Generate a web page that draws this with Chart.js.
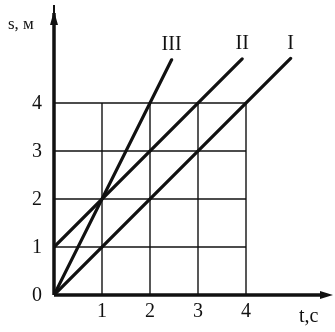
<!DOCTYPE html>
<html><head><meta charset="utf-8">
<script src="https://cdn.jsdelivr.net/npm/chart.js@4"></script>
<style>html,body{margin:0;padding:0;background:#fff}#w{width:335px;height:332px}</style>
</head><body><div id="w"><canvas id="c"></canvas></div>
<script>
const tickValues = [0, 1, 2, 3, 4];
const seriesNames = ['I', 'II', 'III'];
const seriesT = [[0, 4.93], [0, 3.92], [0, 2.45]];
const seriesS = [[0, 4.93], [1, 4.92], [0, 4.9]];
const xAxisLabel = 't,c';
const yAxisLabel = 's, м';

const datasets = seriesNames.map((n, i) => ({
  label: n,
  data: seriesT[i].map((t, k) => ({x: t, y: seriesS[i][k]})),
  showLine: true, borderColor: '#111', borderWidth: 3.2, pointRadius: 0,
  borderCapStyle: 'round', fill: false
}));

const SERIF = '"Liberation Serif","DejaVu Serif",serif';
const drawPlugin = {
  id: 'drawing',
  beforeDatasetsDraw(chart) {
    const ctx = chart.ctx, xs = chart.scales.x, ys = chart.scales.y;
    const gmax = tickValues[tickValues.length - 1];
    ctx.save();
    ctx.strokeStyle = '#111'; ctx.lineWidth = 1.4;
    tickValues.forEach(v => {
      if (v === 0) return;
      ctx.beginPath();
      ctx.moveTo(xs.getPixelForValue(v), ys.getPixelForValue(0));
      ctx.lineTo(xs.getPixelForValue(v), ys.getPixelForValue(gmax));
      ctx.stroke();
      ctx.beginPath();
      ctx.moveTo(xs.getPixelForValue(0), ys.getPixelForValue(v));
      ctx.lineTo(xs.getPixelForValue(gmax), ys.getPixelForValue(v));
      ctx.stroke();
    });
    ctx.restore();
  },
  afterDatasetsDraw(chart) {
    const ctx = chart.ctx, xs = chart.scales.x, ys = chart.scales.y;
    const x0 = xs.getPixelForValue(0), y0 = ys.getPixelForValue(0);
    const area = chart.chartArea;
    ctx.save();
    ctx.fillStyle = '#111'; ctx.strokeStyle = '#111';
    ctx.lineWidth = 3.5;
    ctx.beginPath(); ctx.moveTo(x0, y0); ctx.lineTo(area.right - 10, y0); ctx.stroke();
    ctx.beginPath(); ctx.moveTo(x0, y0); ctx.lineTo(x0, area.top + 8); ctx.stroke();
    ctx.lineWidth = 2;
    ctx.beginPath(); ctx.moveTo(x0, y0); ctx.lineTo(x0, area.top); ctx.stroke();
    ctx.beginPath(); ctx.moveTo(area.right - 2, y0); ctx.lineTo(area.right - 15, y0 - 4); ctx.lineTo(area.right - 15, y0 + 4); ctx.closePath(); ctx.fill();
    ctx.beginPath(); ctx.moveTo(x0, area.top + 6); ctx.lineTo(x0 - 4, area.top + 20); ctx.lineTo(x0 + 4, area.top + 20); ctx.closePath(); ctx.fill();
    ctx.font = '20px ' + SERIF;
    ctx.textAlign = 'center'; ctx.textBaseline = 'middle';
    tickValues.forEach(v => {
      ctx.fillText(String(v), x0 - 17, ys.getPixelForValue(v) + 1);
      if (v !== 0) ctx.fillText(String(v), xs.getPixelForValue(v), y0 + 17);
    });
    ctx.font = '17px ' + SERIF;
    ctx.textAlign = 'left';
    ctx.fillText(yAxisLabel, 8, area.top + 20);
    ctx.font = '20px ' + SERIF;
    ctx.fillText(xAxisLabel, 299, y0 + 22);
    ctx.font = '20px ' + SERIF;
    ctx.textAlign = 'center';
    seriesNames.forEach((n, i) => {
      const t = seriesT[i][1], s = seriesS[i][1];
      ctx.fillText(n, xs.getPixelForValue(t), ys.getPixelForValue(s) - 15);
    });
    ctx.restore();
  }
};

new Chart(document.getElementById('c'), {
  type: 'scatter',
  data: {datasets},
  options: {
    responsive: true, maintainAspectRatio: false, animation: false,
    layout: {padding: {left: 54, right: 0, top: 5, bottom: 37}},
    plugins: {legend: {display: false}, tooltip: {enabled: false}},
    scales: {
      x: {type: 'linear', display: false, min: 0, max: 281 / 48},
      y: {type: 'linear', display: false, min: 0, max: 290 / 48}
    }
  },
  plugins: [drawPlugin]
});
</script></body></html>
